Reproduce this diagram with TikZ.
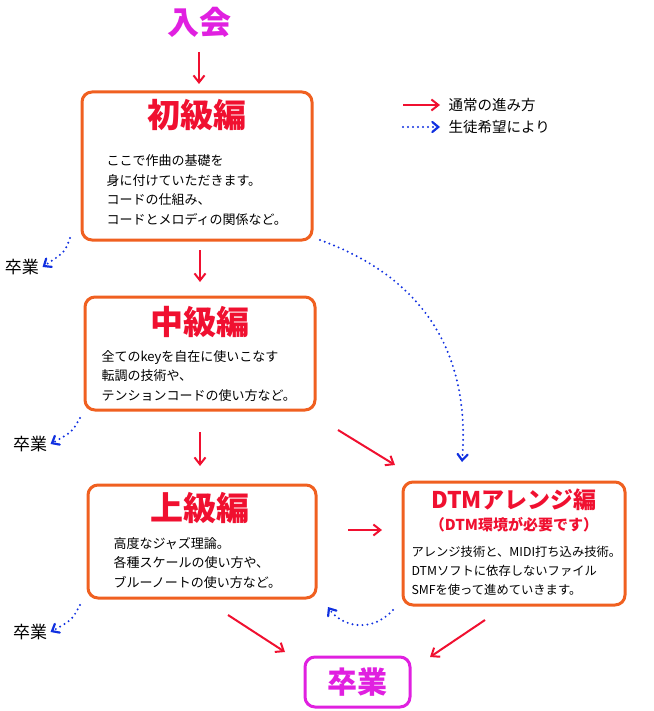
\documentclass[tikz,border=0pt]{standalone}
\usepackage{fontspec}
\setmainfont{Noto Sans CJK JP}
\usetikzlibrary{arrows.meta}
\definecolor{org}{HTML}{F06020}
\definecolor{mag}{HTML}{E020E0}
\definecolor{rd}{HTML}{F01030}
\definecolor{bl}{HTML}{1030E0}
\begin{document}
\begin{tikzpicture}[x=1pt,y=-1pt,
 box/.style={draw=org,line width=3pt,rounded corners=10pt,fill=white},
 ttl/.style={text=rd,font=\fontsize{33}{35}\selectfont\bfseries},
 body/.style={anchor=west,align=left,font=\fontsize{13}{19.5}\selectfont},
 ra/.style={draw=rd,line width=2pt,-{Straight Barb[length=7pt,width=11pt]}},
 ba/.style={draw=bl,line width=2.2pt,line cap=round,dash pattern=on 0pt off 5pt,-{Straight Barb[length=6pt,width=10pt,line cap=round]}},
 grad/.style={font=\fontsize{17}{19}\selectfont}]
\useasboundingbox (0,0) rectangle (653,711);
\node[text=mag,font=\fontsize{32}{34}\selectfont\bfseries] (nyu) at (199,22) {入会};
\draw[box] (82,92) rectangle (312,240);
\node[ttl] (t1) at (197,115) {初級編};
\node[body] (x1) at (103,190) {ここで作曲の基礎を\\身に付けていただきます。\\コードの仕組み、\\コードとメロディの関係など。};
\draw[box] (85,297) rectangle (315,410);
\node[ttl] (t2) at (200,322) {中級編};
\node[body] (x2) at (98,376) {全てのkeyを自在に使いこなす\\転調の技術や、\\テンションコードの使い方など。};
\draw[box] (88,485) rectangle (316,598);
\node[ttl] (t3) at (200,508) {上級編};
\node[body] (x3) at (110,563) {高度なジャズ理論。\\各種スケールの使い方や、\\ブルーノートの使い方など。};
\draw[box] (403,482) rectangle (625,605);
\node[text=rd,font=\fontsize{23}{25}\selectfont\bfseries] (t4) at (514,500) {DTMアレンジ編};
\node[text=rd,font=\fontsize{15}{17}\selectfont\bfseries] (s4) at (514,525) {（DTM環境が必要です）};
\node[body,font=\fontsize{12.3}{19}\selectfont] (x4) at (408,571) {アレンジ技術と、MIDI打ち込み技術。\\DTMソフトに依存しないファイル\\SMFを使って進めていきます。};
\draw[draw=mag,line width=3pt,rounded corners=10pt] (305,657) rectangle (410,707);
\node[text=mag,font=\fontsize{30}{32}\selectfont\bfseries] (sotsu) at (357,682) {卒業};
\node[grad] (g1) at (22,267) {卒業};
\node[grad] (g2) at (30,444) {卒業};
\node[grad] (g3) at (30,632) {卒業};
\coordinate (a1) at (199,52); \coordinate (a2) at (199,84);
\draw[ra] (a1) -- (a2);
\coordinate (c1) at (200,250); \coordinate (c2) at (200,282); \draw[ra] (c1) -- (c2);
\coordinate (d1) at (200,432); \coordinate (d2) at (200,466); \draw[ra] (d1) -- (d2);
\coordinate (e1) at (338,430); \coordinate (e2) at (395,465); \draw[ra] (e1) -- (e2);
\coordinate (f1) at (348,530); \coordinate (f2) at (382,530); \draw[ra] (f1) -- (f2);
\coordinate (h1) at (228,615); \coordinate (h2) at (285,652); \draw[ra] (h1) -- (h2);
\coordinate (i1) at (485,620); \coordinate (i2) at (430,657); \draw[ra] (i1) -- (i2);
\coordinate (j1) at (320,240); \coordinate (j2) at (462,462);
\draw[ba] (j1) .. controls (430,280) and (470,360) .. (j2);
\coordinate (k1) at (70,238); \draw[ba] (k1) .. controls (65,252) .. (g1.east);
\coordinate (k2) at (80,418); \draw[ba] (k2) .. controls (72,432) .. (g2.east);
\coordinate (k3) at (80,605); \draw[ba] (k3) .. controls (72,620) .. (g3.east);
\coordinate (m1) at (393,610); \coordinate (m2) at (328,607);
\draw[ba] (m1) .. controls (370,635) and (340,625) .. (m2);
\coordinate (l1) at (403,105); \coordinate (l2) at (440,105); \draw[ra] (l1) -- (l2);
\node[anchor=west,font=\fontsize{14.5}{16}\selectfont] (lt1) at (445,105) {通常の進み方};
\coordinate (l3) at (403,127); \coordinate (l4) at (440,127); \draw[ba] (l3) -- (l4);
\node[anchor=west,font=\fontsize{14.5}{16}\selectfont] (lt2) at (445,127) {生徒希望により};
\end{tikzpicture}
\end{document}
